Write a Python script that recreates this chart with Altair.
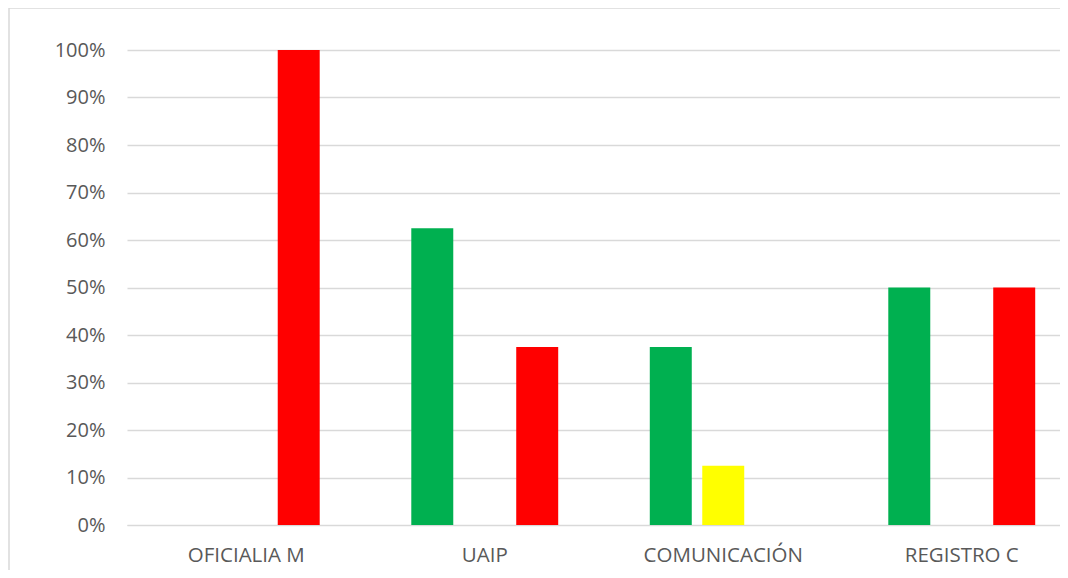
import altair as alt
import pandas as pd

categories = ["OFICIALIA M", "UAIP", "COMUNICACIÓN", "REGISTRO C"]
series = ["Verde", "Amarillo", "Rojo"]
verde = [0.0, 0.625, 0.375, 0.5]
amarillo = [0.0, 0.0, 0.125, 0.0]
rojo = [1.0, 0.375, 0.0, 0.5]
colors = ["#00B050", "#FFFF00", "#FF0000"]
y_ticks = [i / 10 for i in range(11)]

rows = []
for i, c in enumerate(categories):
    for s, vals in zip(series, [verde, amarillo, rojo]):
        rows.append({"cat": c, "serie": s, "val": vals[i]})
df = pd.DataFrame(rows)

FONT = "Open Sans"
GRAY = "#595959"

bars = alt.Chart(df).mark_bar().encode(
    x=alt.X("cat:N", sort=categories, title=None,
            scale=alt.Scale(range=[0, 954], paddingInner=0.34, paddingOuter=0.17),
            axis=alt.Axis(labelAngle=0, ticks=False, domain=True, domainColor="#d9d9d9",
                          labelFont=FONT, labelFontSize=20.5, labelColor=GRAY, labelPadding=20)),
    xOffset=alt.XOffset("serie:N", sort=series,
                        scale=alt.Scale(paddingInner=0.2, paddingOuter=0.1)),
    y=alt.Y("val:Q", title=None, scale=alt.Scale(domain=[0, 1]),
            axis=alt.Axis(format="%", values=y_ticks, ticks=False, domain=False,
                          gridColor="#d9d9d9", gridWidth=1.3,
                          labelFont=FONT, labelFontSize=20, labelColor=GRAY, labelPadding=22)),
    color=alt.Color("serie:N", sort=series, legend=None,
                    scale=alt.Scale(domain=series, range=colors)),
)

border = alt.Chart(pd.DataFrame({"a": [0]})).mark_rect(
    fill="transparent", stroke="#d9d9d9", strokeWidth=1.5
).encode(
    x=alt.value(-118), x2=alt.value(1100), y=alt.value(-42), y2=alt.value(700)
)

chart = alt.layer(bars, border).properties(
    width=933, height=475,
    padding={"left": 119, "top": 42, "right": 0, "bottom": 45},
    autosize="none",
).configure_view(strokeOpacity=0)

chart.save("out.html", embed_options={"renderer": "svg", "actions": False})
